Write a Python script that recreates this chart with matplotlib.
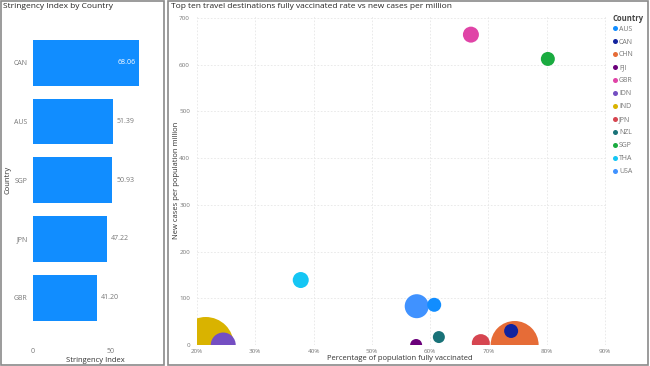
import matplotlib.pyplot as plt
from matplotlib.patches import Rectangle
from matplotlib.lines import Line2D

plt.rcParams['font.family'] = ['Open Sans', 'DejaVu Sans']

# Stringency index bar chart
bar_countries = ['CAN', 'AUS', 'SGP', 'JPN', 'GBR']
stringency = [68.06, 51.39, 50.93, 47.22, 41.20]

# Scatter: vaccination rate vs new cases per million
countries = ['AUS', 'CAN', 'CHN', 'FJI', 'GBR', 'IDN', 'IND', 'JPN', 'NZL', 'SGP', 'THA', 'USA']
vaccinated = [0.607, 0.739, 0.745, 0.576, 0.670, 0.245, 0.215, 0.687, 0.615, 0.802, 0.378, 0.577]
new_cases = [86, 30, 0, 0, 664, 0, 0, 4, 17, 612, 139, 83]
bubble_metric = [49, 49, 576, 36, 64, 156, 784, 81, 36, 49, 64, 144]

colors = ['#118DFF', '#12239E', '#E66C37', '#6B007B', '#E044A7', '#744EC2',
          '#D9B300', '#D64550', '#197278', '#1AAB40', '#15C6F4', '#4092FF']

W, H = 650, 366
fig = plt.figure(figsize=(6.5, 3.66), dpi=100)

# panel borders
for x0, x1 in [(1, 164), (168, 648)]:
    fig.patches.append(Rectangle((x0 / W, 1 / H), (x1 - x0) / W, 364 / H,
                                 transform=fig.transFigure, fill=False,
                                 edgecolor='#8a8a8a', linewidth=1.2))

tick_color = '#777777'
label_color = '#333333'

# ---- left bar chart ----
ax1 = fig.add_axes([33 / W, 1 - 327 / H, 112 / W, 293.5 / H])
ypos = list(range(len(bar_countries)))
ax1.barh(ypos, stringency, height=0.78, color='#118DFF')
ax1.set_ylim(4.5, -0.5)
ax1.set_xlim(0, 71.8)
ax1.set_yticks(ypos)
ax1.set_yticklabels(bar_countries)
ax1.set_xticks([0, 50])
ax1.tick_params(axis='both', length=0, labelsize=5, colors=tick_color)
ax1.tick_params(axis='x', pad=15)
ax1.tick_params(axis='y', pad=4)
for s in ax1.spines.values():
    s.set_visible(False)
for i, v in enumerate(stringency):
    if i == 0:
        ax1.text(v - 2.5, i, f'{v:.2f}', color='white', fontsize=5,
                 ha='right', va='center')
    else:
        ax1.text(v + 2.5, i, f'{v:.2f}', color=tick_color, fontsize=5,
                 ha='left', va='center')
fig.text(95 / W, 1 - 360 / H, 'Stringency Index', fontsize=5.5,
         color=label_color, ha='center', va='center')
fig.text(8 / W, 1 - 180 / H, 'Country', fontsize=5.5, color=label_color,
         rotation=90, ha='center', va='center')
fig.text(3 / W, 1 - 6 / H, 'Stringency Index by Country', fontsize=6,
         color='#252423', ha='left', va='center')

# ---- right scatter ----
ax2 = fig.add_axes([197 / W, 21 / H, 410 / W, 330 / H])
order = sorted(range(len(countries)), key=lambda i: -bubble_metric[i])
ax2.scatter([vaccinated[i] for i in order], [new_cases[i] for i in order],
            s=[(1.44 * bubble_metric[i] ** 0.5) ** 2 for i in order],
            c=[colors[i] for i in order], linewidths=0, zorder=3, clip_on=True)
ax2.set_xlim(0.2, 0.9035)
ax2.set_ylim(0, 706)
ax2.set_xticks([0.2, 0.3, 0.4, 0.5, 0.6, 0.7, 0.8, 0.9])
ax2.set_xticklabels([f'{int(round(t * 100))}%' for t in ax2.get_xticks()])
ax2.set_yticks(range(0, 800, 100))
ax2.tick_params(axis='both', length=0, labelsize=4.5, colors=tick_color)
ax2.tick_params(axis='x', pad=3)
ax2.tick_params(axis='y', pad=5)
ax2.grid(True, color='#e6e6e6', linestyle=(0, (2, 2)), linewidth=0.6, zorder=0)
for s in ax2.spines.values():
    s.set_visible(False)
fig.text(400 / W, 1 - 359 / H, 'Percentage of population fully vaccinated',
         fontsize=5.5, color=label_color, ha='center', va='center')
fig.text(177 / W, 1 - 180 / H, 'New cases per population million', fontsize=5.5,
         color=label_color, rotation=90, ha='center', va='center')
fig.text(171 / W, 1 - 6 / H,
         'Top ten travel destinations fully vaccinated rate vs new cases per million',
         fontsize=6, color='#252423', ha='left', va='center')

handles = [Line2D([], [], marker='o', linestyle='none', markersize=3.6,
                  markerfacecolor=c, markeredgewidth=0) for c in colors]
leg = fig.legend(handles, countries, title='Country', loc='upper left',
                 bbox_to_anchor=(609 / W, 1 - 11 / H), frameon=False,
                 fontsize=5, title_fontsize=5.5, handlelength=0.8,
                 handletextpad=0.15, labelspacing=0.86, borderpad=0)
leg.get_title().set_fontweight('bold')
leg.get_title().set_color('#444444')
leg._legend_box.align = 'left'
leg._legend_box.sep = 1.5
for t in leg.get_texts():
    t.set_color(tick_color)

fig.savefig('out.png', dpi=100)
